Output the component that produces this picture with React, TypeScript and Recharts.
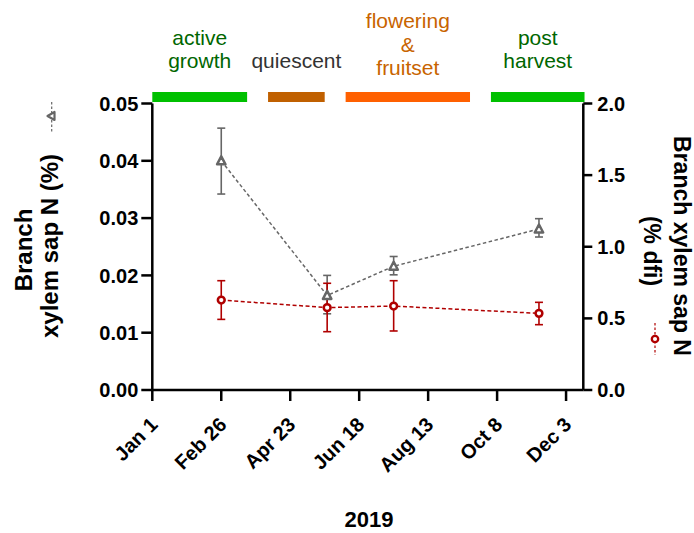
import React from 'react';
import { ComposedChart, Line, XAxis, YAxis, ErrorBar, ReferenceArea } from 'recharts';

// sampling dates as day-of-year offsets from Jan 1 2019
const sampleDays = [56, 142, 196, 314];

// branch xylem sap N (%), mean with lower / upper error limits
const sapN = [0.04, 0.0165, 0.0216, 0.0281];
const sapNLow = [0.0342, 0.0133, 0.0201, 0.0267];
const sapNHigh = [0.0457, 0.02, 0.0233, 0.0299];

// branch xylem sap N (% dfi), mean with lower / upper error limits
const sapDfi = [0.628, 0.575, 0.586, 0.535];
const sapDfiLow = [0.493, 0.407, 0.412, 0.456];
const sapDfiHigh = [0.763, 0.745, 0.763, 0.612];

const tickDays = [0, 56, 112, 168, 224, 280, 336];
const tickLabels = ['Jan 1', 'Feb 26', 'Apr 23', 'Jun 18', 'Aug 13', 'Oct 8', 'Dec 3'];
const leftTicks = [0, 0.01, 0.02, 0.03, 0.04, 0.05];
const rightTicks = [0, 0.5, 1, 1.5, 2];

// phenological phases shown as bars above the plot
const phaseNames = [['active', 'growth'], ['quiescent'], ['flowering', '&', 'fruitset'], ['post', 'harvest']];
const phaseStart = [0, 94, 157, 275];
const phaseEnd = [77, 140, 258, 351];
const phaseColors = ['#00c000', '#c06000', '#ff6000', '#00c000'];
const phaseTextColors = ['#006600', '#333333', '#c86400', '#006600'];

const GRAY = '#666666';
const RED = '#b00000';
const FONT = '"Liberation Sans", Arial, sans-serif';

const Triangle = (props: any) => {
  const { cx, cy } = props;
  if (cx == null || cy == null) return null;
  return (
    <path
      d={`M${cx},${cy - 4.5} L${cx + 4.2},${cy + 3.5} L${cx - 4.2},${cy + 3.5} Z`}
      fill="#fff"
      stroke={GRAY}
      strokeWidth={2.5}
      strokeLinejoin="round"
    />
  );
};

const Ring = (props: any) => {
  const { cx, cy } = props;
  if (cx == null || cy == null) return null;
  return <circle cx={cx} cy={cy} r={3.4} fill="#fff" stroke={RED} strokeWidth={2.5} />;
};

const DateTick = (props: any) => {
  const { x, payload } = props;
  const label = tickLabels[tickDays.indexOf(payload.value)];
  return (
    <g transform={`translate(${x},390)`}>
      <text
        x={0}
        y={0}
        transform="translate(6.5,36) rotate(-45)"
        textAnchor="end"
        fontSize={20}
        fontWeight={700}
        fill="#000"
      >
        {label}
      </text>
    </g>
  );
};

const phaseLabel = (i: number) => (props: any) => {
  const vb = props.viewBox;
  if (!vb) return null;
  const cx = vb.x + vb.width / 2;
  const lines = phaseNames[i];
  const bottom = lines.length > 2 ? 75 : 68;
  return (
    <text textAnchor="middle" fontSize={21} fill={phaseTextColors[i]}>
      {lines.map((t, k) => (
        <tspan key={k} x={cx} y={bottom - (lines.length - 1 - k) * 23.5}>
          {t}
        </tspan>
      ))}
    </text>
  );
};

export default function App() {
  const data = sampleDays.map((day, i) => ({
    day,
    sapN: sapN[i],
    sapNErr: [sapN[i] - sapNLow[i], sapNHigh[i] - sapN[i]],
    sapDfi: sapDfi[i],
    sapDfiErr: [sapDfi[i] - sapDfiLow[i], sapDfiHigh[i] - sapDfi[i]],
  }));

  const axisStroke = { stroke: '#000', strokeWidth: 2.5 };
  const tickFont = { fontSize: 20, fontWeight: 700, fill: '#000' };

  return (
    <div style={{ position: 'absolute', left: 0, top: 0, width: 694, height: 533, fontFamily: FONT, background: '#fff' }}>
      <ComposedChart width={694} height={533} data={data} margin={{ top: 103.5, right: 0, bottom: 0, left: 0 }}>
        {phaseNames.map((_, i) => (
          <ReferenceArea
            key={i}
            yAxisId="left"
            x1={phaseStart[i]}
            x2={phaseEnd[i]}
            y1={0.05026}
            y2={0.052}
            fill={phaseColors[i]}
            fillOpacity={1}
            stroke="none"
            ifOverflow="visible"
            label={phaseLabel(i)}
          />
        ))}
        <XAxis
          type="number"
          dataKey="day"
          domain={[0, 350]}
          ticks={tickDays}
          interval={0}
          height={143}
          tickSize={11}
          axisLine={axisStroke}
          tickLine={axisStroke}
          tick={<DateTick />}
        />
        <YAxis
          yAxisId="left"
          domain={[0, 0.05]}
          ticks={leftTicks}
          interval={0}
          width={152.3}
          tickSize={11}
          tickMargin={3}
          axisLine={axisStroke}
          tickLine={axisStroke}
          tick={tickFont}
          tickFormatter={(v: number) => v.toFixed(2)}
        />
        <YAxis
          yAxisId="right"
          orientation="right"
          domain={[0, 2]}
          ticks={rightTicks}
          interval={0}
          width={110.7}
          tickSize={9}
          tickMargin={5}
          axisLine={axisStroke}
          tickLine={axisStroke}
          tick={tickFont}
          tickFormatter={(v: number) => v.toFixed(1)}
        />
        <Line
          yAxisId="left"
          dataKey="sapN"
          type="linear"
          stroke={GRAY}
          strokeWidth={1.5}
          strokeDasharray="3.5 2.5"
          dot={<Triangle />}
          activeDot={false}
          isAnimationActive={false}
        >
          <ErrorBar dataKey="sapNErr" direction="y" width={4} stroke={GRAY} strokeWidth={1.6} />
        </Line>
        <Line
          yAxisId="right"
          dataKey="sapDfi"
          type="linear"
          stroke={RED}
          strokeWidth={1.5}
          strokeDasharray="4 2.5"
          dot={<Ring />}
          activeDot={false}
          isAnimationActive={false}
        >
          <ErrorBar dataKey="sapDfiErr" direction="y" width={4} stroke={RED} strokeWidth={1.6} />
        </Line>
      </ComposedChart>

      <svg width={694} height={533} style={{ position: 'absolute', left: 0, top: 0, pointerEvents: 'none' }}>
        <g fontWeight={700} fontSize={24} fill="#000" textAnchor="middle">
          <text transform="translate(32,250) rotate(-90)">Branch</text>
          <text transform="translate(58,246) rotate(-90)">xylem sap N (%)</text>
          <text transform="translate(674,246) rotate(90)" fontSize={23}>Branch xylem sap N</text>
          <text transform="translate(644,251) rotate(90)" fontSize={23}>(% dfi)</text>
          <text x={369} y={527} fontSize={22}>2019</text>
        </g>
        <g>
          <line x1={51.7} y1={102} x2={51.7} y2={132} stroke={GRAY} strokeWidth={1.2} strokeDasharray="2.5 2" />
          <path d="M47.5,116 L54.5,112 L54.5,120 Z" fill="#fff" stroke={GRAY} strokeWidth={2.2} strokeLinejoin="round" />
          <line x1={655} y1={323} x2={655} y2={355} stroke={RED} strokeWidth={1.2} strokeDasharray="2.5 2" />
          <circle cx={655} cy={339} r={3.2} fill="#fff" stroke={RED} strokeWidth={2.3} />
        </g>
      </svg>
    </div>
  );
}
